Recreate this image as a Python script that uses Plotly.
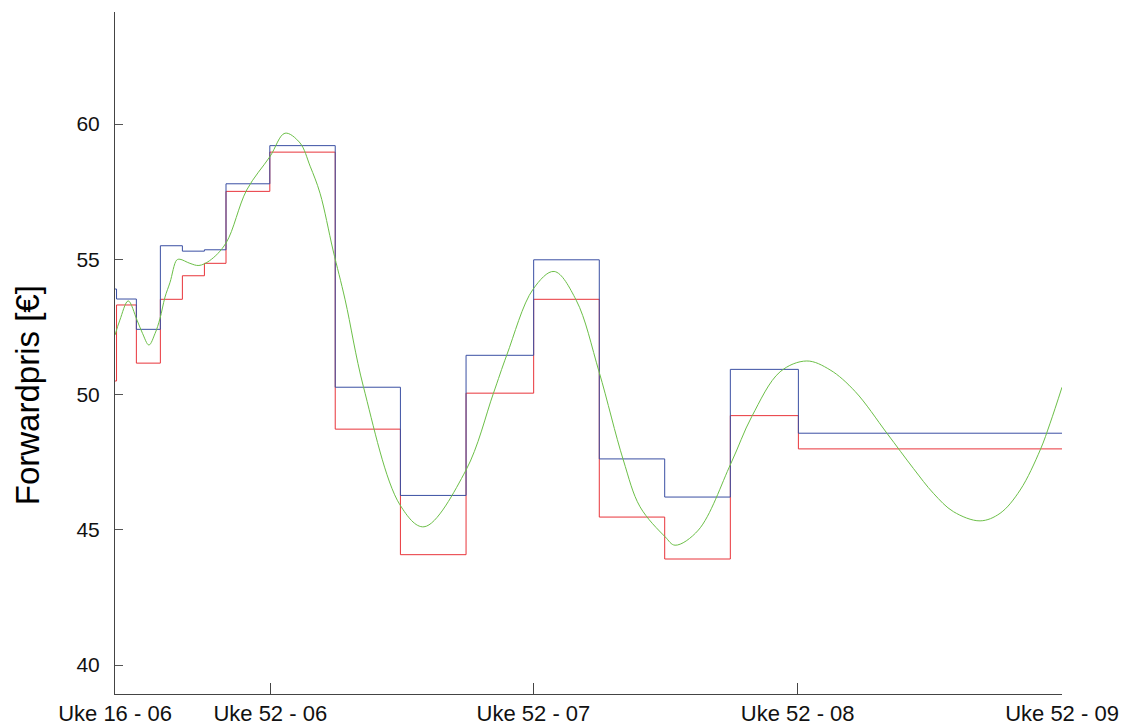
import plotly.graph_objects as go

# Step boundaries (months from start of chart)
step_x = [0, 0.07, 0.97, 2.06, 3.06, 4.06, 5.04, 7.03, 10.0, 12.96, 15.94,
          19.01, 21.99, 24.96, 27.94, 31.03, 43.0]
blue_vals = [53.9, 53.53, 52.41, 55.50, 55.30, 55.35, 57.79, 59.20, 50.27,
             46.27, 51.45, 54.98, 47.62, 46.21, 50.93, 48.57]
red_vals = [50.5, 53.31, 51.16, 53.52, 54.39, 54.85, 57.51, 58.96, 48.72,
            44.08, 50.05, 53.52, 45.47, 43.92, 49.22, 47.99]

green_x = [0, 0.22, 0.60, 1.0, 1.25, 1.54, 1.82, 2.04, 2.27, 2.5, 2.8, 2.95,
           3.4, 3.81, 4.3, 5.04, 5.98, 7.04, 7.72, 8.4, 8.86, 9.31, 9.90,
           10.45, 11.28, 12.94, 14.03, 15.94, 17.18, 17.79, 18.98, 19.94,
           20.94, 21.98, 23.08, 23.84, 24.98, 25.43, 26.49, 27.97, 28.91,
           30.20, 31.41, 32.47, 33.61, 35.05, 36.25, 37.16, 38.07, 39.28,
           40.19, 41.10, 42.01, 42.46, 43.0]
green_vals = [52.2, 52.75, 53.46, 52.75, 52.26, 51.83, 52.26, 52.8, 53.6, 54.15,
              54.97, 55.0, 54.85, 54.77, 54.95, 55.6, 57.56, 58.8, 59.66, 59.3,
              58.44, 57.44, 55.34, 53.5, 50.29, 45.92, 45.11, 47.21, 50.04,
              51.46, 53.89, 54.55, 53.49, 50.84, 47.58, 45.85, 44.74, 44.43,
              44.99, 47.46, 49.18, 50.84, 51.24, 50.91, 50.11, 48.57, 47.27,
              46.35, 45.67, 45.33, 45.61, 46.47, 47.95, 48.94, 50.27]

tick_pos = [0, 7.05, 19, 31, 43]
tick_labels = ["Uke 16 - 06", "Uke 52 - 06", "Uke 52 - 07", "Uke 52 - 08", "Uke 52 - 09"]
y_ticks = [40, 45, 50, 55, 60]

fig = go.Figure()
fig.add_trace(go.Scatter(x=step_x, y=red_vals + [red_vals[-1]], mode="lines",
                         line=dict(color="#e8343a", width=1, shape="hv"),
                         hoverinfo="skip", showlegend=False))
fig.add_trace(go.Scatter(x=step_x, y=blue_vals + [blue_vals[-1]], mode="lines",
                         line=dict(color="#3a4fa3", width=1, shape="hv"),
                         hoverinfo="skip", showlegend=False))
fig.add_trace(go.Scatter(x=green_x, y=green_vals, mode="lines",
                         line=dict(color="#6cbf48", width=1, shape="spline", smoothing=1.0),
                         hoverinfo="skip", showlegend=False))

fig.update_layout(
    width=1122, height=725,
    margin=dict(l=115, r=60, t=12, b=31),
    paper_bgcolor="white", plot_bgcolor="white",
    font=dict(family="Liberation Sans, Arial, sans-serif", size=21, color="#111111"),
    showlegend=False,
)
fig.update_xaxes(range=[0, 43], tickvals=tick_pos, ticktext=tick_labels,
                 tickfont=dict(size=22),
                 showgrid=False, zeroline=False, showline=True, automargin=False,
                 linecolor="#444444", linewidth=1,
                 ticks="inside", ticklen=11, tickcolor="#444444", tickwidth=1)
fig.update_yaxes(range=[38.93, 64.14], tickvals=y_ticks,
                 showgrid=False, zeroline=False, showline=True, automargin=False,
                 linecolor="#444444", linewidth=1,
                 ticks="inside", ticklen=8, tickcolor="#555555", tickwidth=1,
                 ticklabelstandoff=10)
fig.add_annotation(text="Forwardpris [€]", textangle=-90,
                   xref="paper", yref="paper", x=-0.093, y=0.438,
                   xanchor="center", yanchor="middle", showarrow=False,
                   font=dict(family="Liberation Sans, Arial, sans-serif", size=33, color="#000000"))

fig.write_html("out.html", config={"displayModeBar": False},
               post_script="document.body.style.margin='0';document.body.style.overflow='hidden';")
